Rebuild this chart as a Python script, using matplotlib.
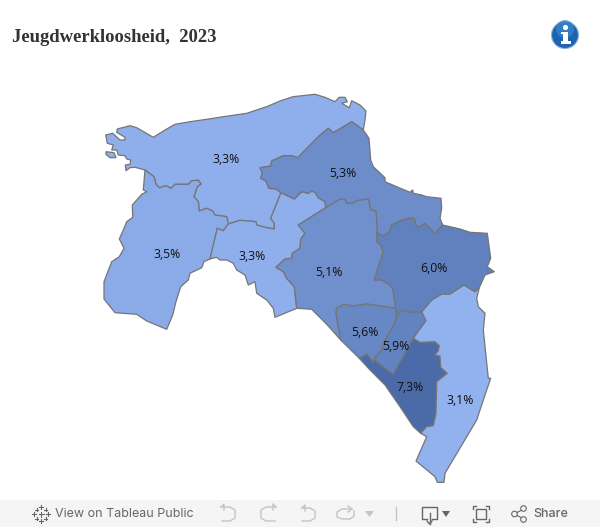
import matplotlib
matplotlib.use('Agg')
import matplotlib.pyplot as plt
from matplotlib.colors import LinearSegmentedColormap, Normalize
from matplotlib.patches import Circle, Polygon, Rectangle

# gedeelde grenzen tussen de gemeenten (in beeldcoordinaten)
border_ab = [(145, 170), (154, 176.7), (156, 184.3), (159.3, 187.7), (166, 185.7), (171, 188.3), (175, 184.3),
             (188.3, 184.3), (191.7, 180.7), (198.3, 180.3), (201, 184), (197.3, 186.7), (194, 196.7),
             (198.3, 201.7), (199.3, 211), (206.7, 208.3), (212.7, 211), (215, 215), (226.7, 216.7), (228.3, 224)]
border_ac = [(228.3, 224), (240, 220.3), (256, 221.7), (256.7, 225), (266.7, 227.7), (274.3, 229),
             (274.3, 223.3), (270.7, 218.3), (281, 192.7)]
border_ad = [(281, 192.7), (276, 189), (269, 188.3), (265.7, 180.7), (260.7, 178.3), (262.3, 173.3), (260, 167.7),
             (270.7, 166), (271.7, 161), (283.3, 155.7), (291.7, 155.7), (297.7, 157.7), (318.3, 136.7),
             (328.3, 128.3), (333.3, 132.7), (351.7, 121.7), (363.3, 130)]
coast_a = [(363.3, 130), (365, 120), (366, 111), (360, 105), (351.7, 100.7), (349.3, 107.7), (341.7, 103.3),
           (347.3, 101.7), (345, 97.3), (339.3, 97.3), (335, 101.7), (325, 97.3), (315, 94.3), (293, 96.7),
           (280, 101), (266.7, 106.7), (246.7, 113.3), (223.3, 116.7), (206.7, 119.3), (190, 121.7), (175, 124.3),
           (165, 130), (153.3, 137.3), (136.7, 127.7), (130, 125.7), (117.3, 129), (116.7, 132.3), (125, 137.3),
           (125, 140), (120, 140), (112.7, 133.3), (105.7, 135), (107.3, 143.3), (113.3, 145), (111.7, 150),
           (116.7, 150), (118.3, 155), (125, 155.7), (126.7, 159), (130.7, 160), (130, 164.3), (125.3, 165),
           (126, 170.7), (130, 167.7), (135, 167.3), (145, 170)]
island_a = [(106, 151.7), (114, 152.7), (116, 157.7), (110, 157.7), (106, 154.3)]
border_bc = [(228.3, 224), (223.3, 230.7), (217.3, 228.3), (210, 259)]
coast_b = [(210, 259), (204, 261.7), (201.7, 267.7), (190, 273.3), (188.3, 280), (180.7, 286.7), (176, 301.7),
           (172.7, 315), (166.7, 329.3), (146.7, 321), (136.7, 314.3), (115, 312.7), (104, 299), (104, 281.7),
           (111.7, 261.7), (119.3, 256.7), (124, 248.3), (119.3, 239), (123.3, 230), (126.7, 221.7), (132.7, 217.3),
           (132.3, 205), (141.7, 194.3), (146.7, 191.7), (143.3, 190), (145, 170)]
border_cd = [(281, 192.7), (294.3, 199), (301.7, 191.7), (308.3, 193.3), (311.7, 191), (315, 192.3),
             (318.3, 197.7), (325, 201.7), (325.7, 207.7)]
border_ce = [(325.7, 207.7), (298.3, 225), (305, 233.3), (300.7, 239), (300, 248.3), (292.3, 253.3), (291.7, 258.3),
             (285, 259), (276, 267.3), (283.3, 271.7), (286.7, 278.3), (294.3, 286.7), (296.7, 308.3)]
coast_c = [(296.7, 308.3), (275, 317.3), (273.3, 308.3), (266.7, 300), (256.7, 293.3), (255, 281.7), (248.3, 285),
           (245, 275), (236.7, 270), (233.3, 263.3), (226.7, 260), (220, 260), (216.7, 257.3), (210, 259)]
coast_d = [(363.3, 130), (369, 138.3), (370.7, 160), (373.3, 166.7), (385, 177.7), (385, 181.7), (396.7, 186.7),
           (410, 192.3), (412.7, 190), (413.3, 193.3), (421.7, 195), (426.7, 196.7), (441, 198.3), (441.7, 208.3),
           (440, 218.3), (442.7, 225)]
border_dj = [(442.7, 225), (435, 233.3), (425, 223.3), (418.3, 227.3), (415.7, 225), (414, 218.3), (408.3, 218.3),
             (400, 221), (391.7, 225), (389.3, 232.3), (383.3, 235.7), (376.7, 233.3), (377.3, 231.7)]
border_de = [(377.3, 231.7), (376, 211), (370.7, 210), (368.3, 199), (356.7, 200.7), (353.3, 203.3), (346.7, 203.3),
             (345, 199.3), (340, 199.3), (325.7, 207.7)]
border_ej = [(377.3, 231.7), (376.7, 241.7), (380.7, 245), (383.3, 251.7), (378.3, 266.7), (374.3, 280), (381.7, 280),
             (389.3, 284.3), (392.7, 288.3), (395.7, 308.3)]
border_ef = [(395.7, 308.3), (366.7, 304), (353.3, 306), (343.3, 304.3), (336.7, 308.3), (336, 313.3),
             (338.3, 326.7), (340.7, 340)]
coast_e = [(340.7, 340), (326.7, 324.3), (311.7, 309.3), (296.7, 308.3)]
border_fj = [(395.7, 308.3), (396.7, 315)]
border_fg = [(396.7, 315), (395, 323.3), (383.3, 343.3), (381.7, 350), (375, 357.3)]
border_fh = [(375, 357.3), (373.3, 362.3), (366.7, 354), (359.3, 358.3)]
coast_f = [(359.3, 358.3), (340.7, 340)]
border_gj = [(396.7, 315), (402.7, 310), (410, 312.3), (421.7, 311.7)]
border_gi = [(421.7, 311.7), (426, 320.7), (413.3, 338.3)]
border_gh = [(413.3, 338.3), (393.3, 374.3), (378.3, 363.3), (374.3, 359.3), (375, 357.3)]
border_hi = [(413.3, 338.3), (420, 342.3), (435, 341.7), (439.3, 345.7), (438.3, 350.7), (435, 355), (440, 356),
             (440.7, 367.3), (447.3, 373.3), (436.7, 381.7), (436, 413.3), (433.3, 425.7), (426.7, 426.7), (420.7, 433.3)]
coast_h = [(420.7, 433.3), (413.3, 426.7), (400, 406.7), (385, 385), (370, 370), (359.3, 358.3)]
coast_i = [(421.7, 311.7), (431.7, 300), (441.7, 294), (450, 294), (464, 285), (475, 291.7), (479.3, 287.7),
           (476.7, 298.3), (478.3, 306.7), (485, 313.3), (483.3, 330), (488.3, 378.3), (490.7, 378.3), (485, 395),
           (476.7, 420), (445, 473.3), (444, 482.3), (437.3, 482.3), (435, 476.7), (416, 461), (426.7, 436.7), (420.7, 433.3)]
border_ij = [(421.7, 311.7), (431.7, 300), (441.7, 294), (450, 294), (464, 285), (475, 291.7), (479.3, 287.7)]
coast_j = [(442.7, 225), (460, 229), (470, 232.3), (487.3, 233.3), (490.7, 258.3), (487.3, 266.7), (494.3, 271.7),
           (485, 275), (479.3, 287.7)]

values = [3.3, 3.5, 3.3, 5.3, 5.1, 5.6, 5.9, 7.3, 3.1, 6.0]
value_labels = ['3,3%', '3,5%', '3,3%', '5,3%', '5,1%', '5,6%', '5,9%', '7,3%', '3,1%', '6,0%']
label_pos = [(226, 159), (167, 254), (252, 256), (343, 173), (329, 272), (365, 332), (396, 346), (410, 387),
             (460, 400), (434, 268)]


def rev(b):
    return b[::-1]


outlines = [
    border_ab + border_ac[1:] + border_ad[1:] + coast_a[1:],
    border_ab + border_bc[1:] + coast_b[1:],
    rev(border_bc) + border_ac[1:] + border_cd[1:] + border_ce[1:] + coast_c[1:],
    border_ad + coast_d[1:] + border_dj[1:] + border_de[1:] + rev(border_cd)[1:],
    rev(border_de) + border_ej[1:] + border_ef[1:] + coast_e[1:] + rev(border_ce)[1:],
    rev(border_ef) + border_fj[1:] + border_fg[1:] + border_fh[1:] + coast_f[1:],
    border_fg + rev(border_gh)[1:] + rev(border_gi)[1:] + rev(border_gj)[1:],
    rev(border_gh) + border_hi[1:] + coast_h[1:] + rev(border_fh)[1:],
    border_gi + border_hi[1:] + rev(coast_i)[1:],
    rev(border_dj) + coast_j[1:] + rev(border_ij)[1:] + rev(border_gj)[1:] + rev(border_fj)[1:] + rev(border_ej)[1:],
]

cmap = LinearSegmentedColormap.from_list('blauw', ['#92B1EF', '#4A6BA8'])
norm = Normalize(3.1, 7.3)

fig = plt.figure(figsize=(6, 5.27), dpi=100)
ax = fig.add_axes([0, 0, 1, 1])
ax.set_xlim(0, 600)
ax.set_ylim(527, 0)
ax.axis('off')

edge = '#757575'
for pts, val in zip(outlines, values):
    ax.add_patch(Polygon(pts, closed=True, facecolor=cmap(norm(val)), edgecolor=edge, linewidth=0.9, joinstyle='round'))
ax.add_patch(Polygon(island_a, closed=True, facecolor=cmap(norm(3.3)), edgecolor=edge, linewidth=0.9))

for (x, y), txt in zip(label_pos, value_labels):
    ax.text(x, y + 0.5, txt, ha='center', va='center', fontsize=8.8, family='Open Sans', color='#111111')

ax.text(12, 38, 'Jeugdwerkloosheid,  2023', ha='left', va='center', fontsize=13.4, family='Liberation Serif',
        fontweight='bold', color='#333333')

# info knop rechtsboven
ax.add_patch(Circle((565, 35), 13.5, facecolor='#1f62ae', edgecolor='#8fb4dc', linewidth=0.8))
ax.add_patch(Circle((565, 29), 9, facecolor='#3c86cc', edgecolor='none', alpha=0.7))
ax.add_patch(Circle((565.5, 27.5), 2.6, facecolor='white', edgecolor='none'))
ax.add_patch(Rectangle((563, 32), 5, 10, facecolor='white', edgecolor='none'))
ax.add_patch(Rectangle((560.5, 32), 4, 2, facecolor='white', edgecolor='none'))
ax.add_patch(Rectangle((560.5, 41), 10, 2.5, facecolor='white', edgecolor='none'))

# werkbalk onderaan
ax.add_patch(Rectangle((0, 500), 600, 27, facecolor='#f5f5f5', edgecolor='none'))
grey = '#666666'
light = '#c4c4c4'
ax.text(55, 514, 'View on Tableau Public', ha='left', va='center', fontsize=9, family='Inter', color=grey)
ax.text(533, 514, 'Share', ha='left', va='center', fontsize=9, family='Inter', fontweight='medium', color=grey)

# tableau logo
for cx, cy, s in [(41, 514, 2.5), (41, 507, 2), (41, 521, 2), (34, 514, 2), (48, 514, 2),
                  (36.5, 509.5, 1.5), (45.5, 509.5, 1.5), (36.5, 518.5, 1.5), (45.5, 518.5, 1.5)]:
    ax.plot([cx - s, cx + s], [cy, cy], color=grey, lw=0.8)
    ax.plot([cx, cx], [cy - s, cy + s], color=grey, lw=0.8)

# undo / redo pijlen
ax.plot([221, 230, 235, 235, 230, 222], [507, 507, 510, 518, 521, 521], color=light, lw=1)
ax.plot([221, 224, 224], [507, 504, 510], color=light, lw=1)
ax.plot([276, 266, 261, 261, 266, 275], [507, 507, 510, 518, 521, 521], color=light, lw=1)
ax.plot([276, 273, 273], [507, 504, 510], color=light, lw=1)
ax.plot([302, 310, 315, 315, 310, 302], [508, 508, 511, 518, 521, 521], color=light, lw=1)
ax.plot([302, 305, 305], [508, 505, 511], color=light, lw=1)
ax.plot([352, 342, 337, 337, 342, 350, 354, 354], [509, 509, 512, 517, 519, 519, 516, 511], color=light, lw=1)
ax.plot([348, 352, 348], [506, 509, 512], color=light, lw=1)
ax.fill([365, 374, 369.5], [511, 511, 517], color=light, lw=0)
ax.plot([395.5, 395.5], [507, 520], color=light, lw=1)

# download, fullscreen, delen
ax.plot([427, 422, 422, 437, 437, 432], [519, 519, 507, 507, 519, 519], color=grey, lw=1)
ax.plot([429.5, 429.5], [513, 524], color=grey, lw=1)
ax.plot([427, 429.5, 432], [521, 524, 521], color=grey, lw=1)
ax.fill([442, 450, 446], [511, 511, 517], color=grey, lw=0)
ax.add_patch(Rectangle((476, 509), 10, 10, facecolor='none', edgecolor=grey, lw=1))
for cx, cy, dx, dy in [(473, 506, 1, 1), (489, 506, -1, 1), (473, 522, 1, -1), (489, 522, -1, -1)]:
    ax.plot([cx + 3 * dx, cx, cx], [cy, cy, cy + 3 * dy], color=grey, lw=1)
ax.plot([514, 524], [514, 509], color=grey, lw=0.8)
ax.plot([514, 524], [514, 519], color=grey, lw=0.8)
for cx, cy, r in [(514.5, 514, 2.8), (523.5, 508.5, 2.8), (523.5, 519.5, 2.8)]:
    ax.add_patch(Circle((cx, cy), r, facecolor='#f5f5f5', edgecolor=grey, lw=0.8, zorder=3))

fig.savefig('out.png', dpi=100, facecolor='white')
